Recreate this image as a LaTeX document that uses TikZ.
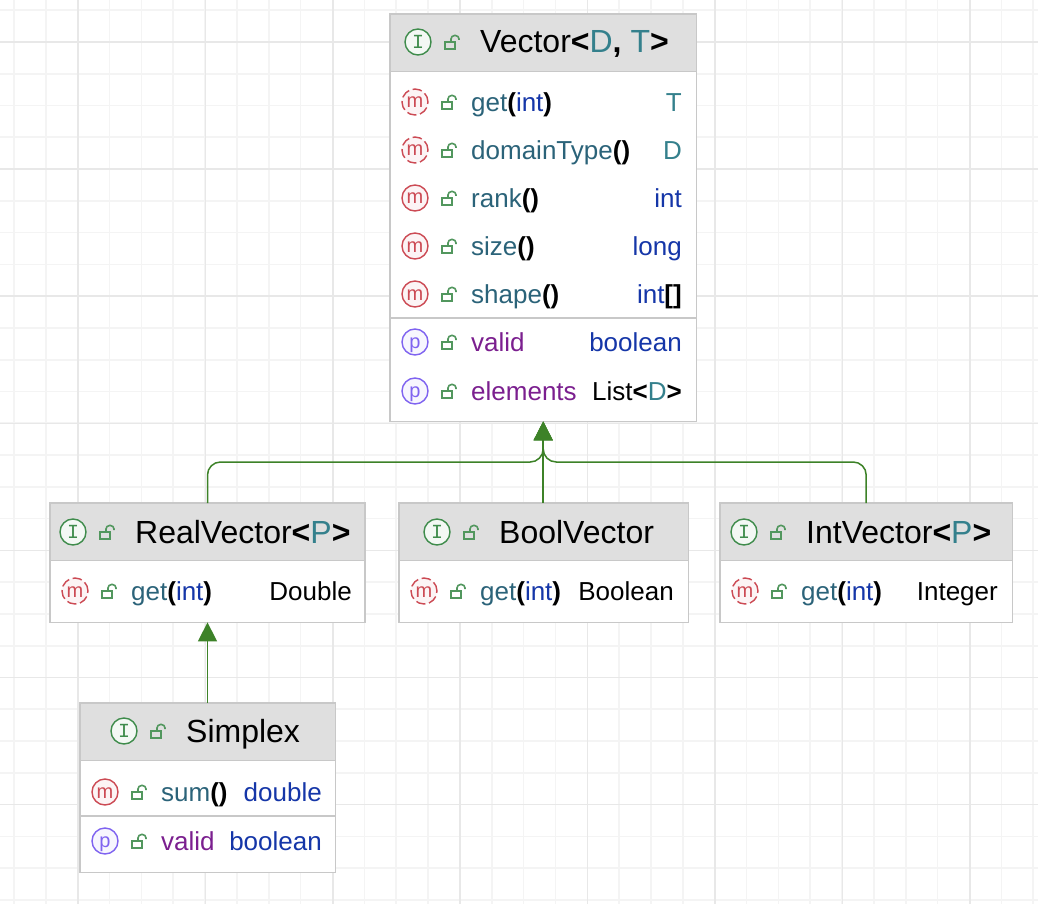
\documentclass[tikz,border=0pt]{standalone}
\usepackage{fontspec}
\setmainfont{Liberation Sans}
\setmonofont{Liberation Mono}
\usetikzlibrary{arrows.meta}

\definecolor{gridminor}{HTML}{F4F4F4}
\definecolor{gridmajor}{HTML}{E8E8E8}
\definecolor{boxline}{HTML}{C8C8C8}
\definecolor{headfill}{HTML}{DFDFDF}
\definecolor{edgegreen}{HTML}{3D8228}
\definecolor{mname}{HTML}{2B6379}
\definecolor{kwblue}{HTML}{1536A8}
\definecolor{tparam}{HTML}{34808C}
\definecolor{pname}{HTML}{7B1F8F}
\definecolor{mred}{HTML}{CC4A54}
\definecolor{ppurple}{HTML}{7F63F0}
\definecolor{igreen}{HTML}{3F8C4C}

\newcommand{\mn}[1]{\textcolor{mname}{#1}}
\newcommand{\kw}[1]{\textcolor{kwblue}{#1}}
\newcommand{\tp}[1]{\textcolor{tparam}{#1}}
\newcommand{\pn}[1]{\textcolor{pname}{#1}}
\newcommand{\bk}[1]{\textbf{#1}}

% id, left, top, width, height, head height
\newcommand{\classbox}[6]{%
	\node[classnode, minimum width=#4pt, minimum height=#5pt] (#1) at (#2,#3) {};
	\node[headnode, minimum width=#4pt, minimum height=#6pt] (#1-head) at (#1.north west) {};
	\draw[divider] (#1-head.south west) -- (#1-head.south east);
	\draw[boxline, line width=1.5pt] (#1.north west) rectangle (#1.south east);
}
% id, icon x, y, title
\newcommand{\classtitle}[4]{%
	\node[iconi] (#1-icon) at (#2,#3) {I};
	\pic at (#2+34,#3) {lockicon};
	\node[titletext] (#1-title) at (#2+62,#3+11) {#4};
}
% id, icon style, letter, icon x, y, right x, name, type
\newcommand{\member}[8]{%
	\node[#2] (#1-icon) at (#4,#5) {#3};
	\pic at (#4+34,#5) {lockicon};
	\node[rowtext, anchor=base west] (#1-name) at (#4+56,#5+9.5) {#7};
	\node[rowtext, anchor=base east] (#1-type) at (#6,#5+9.5) {#8};
}

\begin{document}
\begin{tikzpicture}[x=1pt, y=-1pt, >={Triangle[length=19pt, width=19pt]},
	classnode/.style={fill=white, anchor=north west, inner sep=0pt},
	headnode/.style={fill=headfill, anchor=north west, inner sep=0pt},
	divider/.style={draw=boxline, line width=1.3pt},
	icon/.style={circle, line width=1.4pt, minimum size=26pt, inner sep=0pt, text height=12pt, text depth=0pt, font=\fontsize{20}{20}\selectfont},
	iconi/.style={icon, draw=igreen, fill=igreen!6, text=igreen, text height=13pt, font=\fontsize{20}{20}\ttfamily},
	iconm/.style={icon, draw=mred, fill=mred!6, text=mred},
	icona/.style={iconm, dash pattern=on 9.5pt off 3.7pt},
	iconp/.style={icon, draw=ppurple, fill=ppurple!6, text=ppurple},
	titletext/.style={anchor=base west, inner sep=0pt, font=\fontsize{32}{32}\selectfont},
	rowtext/.style={inner sep=0pt, font=\fontsize{26}{26}\selectfont},
	edge/.style={draw=edgegreen, line width=1.5pt, ->},
	lockicon/.pic={
		\draw[igreen!90, line width=1.6pt] (-7,0) rectangle (3,7);
		\draw[igreen!90, line width=1.6pt, rounded corners=3.5pt] (-1,0) -- (-1,-6.5) -- (7,-6.5) -- (7,-2);
	}]
	\useasboundingbox (0,0) rectangle (1038,904);
	\fill[white] (0,0) rectangle (1038,904);
	% grid
	\foreach \k in {0,...,32} {
		\draw[gridminor, line width=1.6pt] ({14+31.85*\k},0) -- ({14+31.85*\k},904);
		\draw[gridminor, line width=1.6pt] (0,{10.2+31.775*\k}) -- (1038,{10.2+31.775*\k});
	}
	\foreach \k in {0,...,7} {
		\draw[gridmajor, line width=1.6pt] ({78+127.4*\k},0) -- ({78+127.4*\k},904);
		\draw[gridmajor, line width=1.6pt] (0,{42+127.1*\k}) -- (1038,{42+127.1*\k});
	}

	\classbox{vector}{390}{14}{306}{407}{57}
	\classtitle{vector}{418}{42}{Vector\bk{<}\tp{D}\bk{,} \tp{T}\bk{>}}
	\member{vget}{icona}{m}{415}{102}{682}{\mn{get}\bk{(}\kw{int}\bk{)}}{\tp{T}}
	\member{vdomain}{icona}{m}{415}{150}{682}{\mn{domainType}\bk{()}}{\tp{D}}
	\member{vrank}{iconm}{m}{415}{198}{682}{\mn{rank}\bk{()}}{\kw{int}}
	\member{vsize}{iconm}{m}{415}{246}{682}{\mn{size}\bk{()}}{\kw{long}}
	\member{vshape}{iconm}{m}{415}{294}{682}{\mn{shape}\bk{()}}{\kw{int}\bk{[]}}
	\draw[divider] (vector.west |- 0,318) -- (vector.east |- 0,318);
	\member{vvalid}{iconp}{p}{415}{342}{682}{\pn{valid}}{\kw{boolean}}
	\member{velements}{iconp}{p}{415}{391}{682}{\pn{elements}}{List\bk{<}\tp{D}\bk{>}}

	\classbox{real}{50}{503}{314.6}{119}{57}
	\classtitle{real}{73}{532}{RealVector\bk{<}\tp{P}\bk{>}}
	\member{rget}{icona}{m}{75}{591}{352}{\mn{get}\bk{(}\kw{int}\bk{)}}{Double}

	\classbox{bool}{399}{503}{289}{119}{57}
	\classtitle{bool}{437}{532}{BoolVector}
	\member{bget}{icona}{m}{424}{591}{674}{\mn{get}\bk{(}\kw{int}\bk{)}}{Boolean}

	\classbox{intv}{720}{503}{292}{119}{57}
	\classtitle{intv}{744}{532}{IntVector\bk{<}\tp{P}\bk{>}}
	\member{iget}{icona}{m}{745}{591}{998}{\mn{get}\bk{(}\kw{int}\bk{)}}{Integer}

	\classbox{simplex}{80}{703}{255}{169}{57}
	\classtitle{simplex}{124}{731}{Simplex}
	\member{ssum}{iconm}{m}{105}{792}{322}{\mn{sum}\bk{()}}{\kw{double}}
	\draw[divider] (simplex.west |- 0,816) -- (simplex.east |- 0,816);
	\member{svalid}{iconp}{p}{105}{841}{322}{\pn{valid}}{\kw{boolean}}

	% inheritance
	\coordinate (join) at (vector.south |- 0,462);
	\draw[edge, rounded corners=13pt] (real.north) |- (join) -- (vector.south);
	\draw[edge, rounded corners=13pt] (intv.north) |- (join) -- (vector.south);
	\draw[edge] (bool.north -| vector.south) -- (vector.south);
	\draw[edge] (real.south |- simplex.north) -- (real.south);
\end{tikzpicture}
\end{document}
